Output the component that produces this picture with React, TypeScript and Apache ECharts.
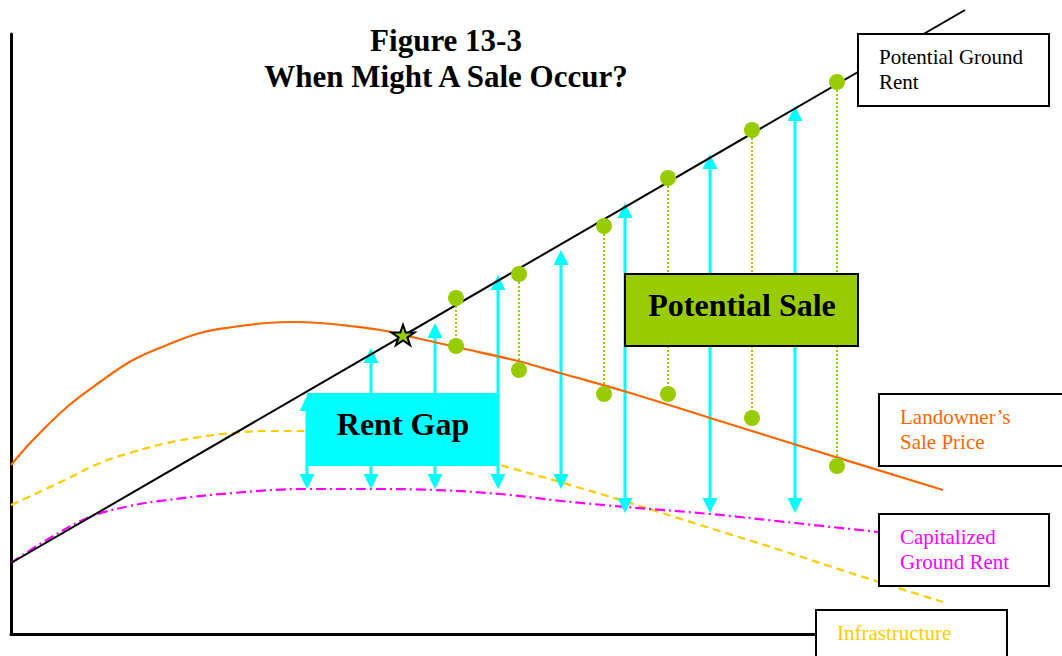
import React, { useEffect, useRef } from "react";
import * as echarts from "echarts";

// ---------- Data (x: time units, y: value units) ----------
const titleLines = ["Figure 13-3", "When Might A Sale Occur?"];

// Potential Ground Rent (straight line)
const groundRentX = [0, 95.4];
const groundRentY = [7.1, 62.4];

// Landowner's Sale Price
const salePriceX = [0, 2.2, 5.6, 8.9, 12.2, 15.6, 18.9, 22.2, 25.6, 28.2, 30.9, 33.9, 36.9, 39.2, 44.5, 50.7, 54.9, 61.6, 69.6, 78.9, 93.2];
const salePriceY = [16.9, 19.4, 22.7, 25.2, 27.4, 28.9, 30.1, 30.7, 31.1, 31.2, 31.1, 30.8, 30.4, 29.9, 28.7, 27.3, 26.1, 24.2, 21.7, 18.8, 14.4];

// Infrastructure
const infraX = [0, 2.2, 5.6, 8.9, 12.2, 15.6, 18.9, 22.2, 25.6, 29.6, 33.9, 38.9, 43.9, 48.9, 54.9, 61.6, 68.9, 76.9, 84.9, 93.2];
const infraY = [12.9, 13.9, 15.5, 17.1, 18.2, 19.1, 19.7, 20.1, 20.3, 20.3, 20.0, 19.3, 18.3, 16.9, 15.2, 13.2, 10.9, 8.4, 5.8, 3.2];

// Capitalized Ground Rent
const capRentX = [0, 3.9, 7.9, 11.9, 15.6, 22.2, 29.6, 36.0, 42.4, 48.9, 55.1, 61.5, 69.9, 78.4, 86.7];
const capRentY = [7.1, 9.6, 11.7, 12.8, 13.4, 14.1, 14.5, 14.5, 14.4, 14.0, 13.3, 12.7, 12.0, 11.1, 10.2];

// Rent gap arrows (from potential ground rent down to capitalized ground rent)
const gapX = [29.6, 36.0, 42.4, 48.7, 55.0, 61.4, 69.9, 78.4];
const gapTop = [23.8, 28.6, 31.1, 35.9, 38.4, 43.1, 48.0, 52.8];
const gapBottom = [14.5, 14.5, 14.5, 14.5, 14.5, 12.1, 12.1, 12.1];

// Potential sale points
const saleX = [44.5, 50.8, 59.3, 65.7, 74.1, 82.6];
const saleRent = [33.6, 36.0, 40.8, 45.6, 50.4, 55.2];
const salePrice = [28.8, 26.4, 24.0, 24.0, 21.6, 16.8];

// Crossing point (star)
const crossX = [39.2];
const crossY = [29.9];

// Axis extents
const plotXMax = 105.1; // full drawing width
const plotYMax = 63.4; // full drawing height
const axisXMax = 80.5; // visible horizontal axis length
const axisYMax = 60; // visible vertical axis length

// Label texts
const rentGapLabel = "Rent Gap";
const potentialSaleLabel = "Potential Sale";
const groundRentLabel = ["Potential Ground", "Rent"];
const salePriceLabel = ["Landowner\u2019s", "Sale Price"];
const capRentLabel = ["Capitalized", "Ground Rent"];
const infraLabel = ["Infrastructure"];

// ---------- Styles ----------
const CYAN = "#00FFFF";
const GREEN = "#99CC00";
const ORANGE = "#FF6600";
const MAGENTA = "#FF00FF";
const YELLOW = "#FFCC00";
const SERIF = '"Liberation Serif", "Times New Roman", serif';

const zip = (xs: number[], ys: number[]) => xs.map((x, i) => [x, ys[i]]);

function labelBox(x: number, y: number, w: number, h: number, lines: string[], color: string) {
  const els: any[] = [
    {
      type: "rect",
      z: 60,
      shape: { x, y, width: w, height: h },
      style: { fill: "#ffffff", stroke: "#000000", lineWidth: 2 },
    },
  ];
  lines.forEach((t, i) => {
    els.push({
      type: "text",
      z: 61,
      x: x + 21,
      y: y + 23 + i * 25,
      style: {
        text: t,
        font: `21px ${SERIF}`,
        fill: color,
        textAlign: "left",
        textVerticalAlign: "middle",
      },
    });
  });
  return els;
}

const hiddenAxis = {
  axisLine: { show: false },
  axisTick: { show: false },
  axisLabel: { show: false },
  splitLine: { show: false },
};

const shownAxis = {
  axisLine: { show: true, onZero: false, lineStyle: { color: "#000", width: 3 } },
  axisTick: { show: false },
  axisLabel: { show: false },
  splitLine: { show: false },
};

export default function App() {
  const ref = useRef<HTMLDivElement>(null);

  useEffect(() => {
    if (!ref.current) return;
    const chart = echarts.init(ref.current, undefined, { renderer: "svg" });

    const arrowRender = (params: any, api: any) => {
      const top = api.coord([api.value(0), api.value(1)]);
      const bot = api.coord([api.value(0), api.value(2)]);
      const h = 15;
      const w = 7.5;
      const x = top[0];
      return {
        type: "group",
        children: [
          {
            type: "line",
            shape: { x1: x, y1: top[1] + h - 1, x2: x, y2: bot[1] - h + 1 },
            style: { stroke: CYAN, lineWidth: 3 },
          },
          {
            type: "polygon",
            shape: { points: [[x, top[1]], [x - w, top[1] + h], [x + w, top[1] + h]] },
            style: { fill: CYAN },
          },
          {
            type: "polygon",
            shape: { points: [[x, bot[1]], [x - w, bot[1] - h], [x + w, bot[1] - h]] },
            style: { fill: CYAN },
          },
        ],
      };
    };

    const connectorRender = (params: any, api: any) => {
      const top = api.coord([api.value(0), api.value(1)]);
      const bot = api.coord([api.value(0), api.value(2)]);
      return {
        type: "line",
        shape: { x1: top[0], y1: top[1], x2: bot[0], y2: bot[1] },
        style: { stroke: GREEN, lineWidth: 2, lineDash: [2, 2] },
      };
    };

    const graphics: any[] = [
      {
        type: "text",
        z: 70,
        x: 446,
        y: 40,
        style: { text: titleLines[0], font: `bold 31px ${SERIF}`, fill: "#000", textAlign: "center", textVerticalAlign: "middle" },
      },
      {
        type: "text",
        z: 70,
        x: 446,
        y: 76,
        style: { text: titleLines[1], font: `bold 31px ${SERIF}`, fill: "#000", textAlign: "center", textVerticalAlign: "middle" },
      },
      {
        type: "rect",
        z: 50,
        shape: { x: 307, y: 393, width: 191, height: 73 },
        style: { fill: CYAN },
      },
      {
        type: "text",
        z: 51,
        x: 403,
        y: 424,
        style: { text: rentGapLabel, font: `bold 32px ${SERIF}`, fill: "#000", textAlign: "center", textVerticalAlign: "middle" },
      },
      {
        type: "rect",
        z: 50,
        shape: { x: 625, y: 274, width: 233, height: 72 },
        style: { fill: GREEN, stroke: "#000", lineWidth: 2 },
      },
      {
        type: "text",
        z: 51,
        x: 742,
        y: 305,
        style: { text: potentialSaleLabel, font: `bold 32px ${SERIF}`, fill: "#000", textAlign: "center", textVerticalAlign: "middle" },
      },
      ...labelBox(858, 34, 191, 72, groundRentLabel, "#000000"),
      ...labelBox(879, 394, 200, 72, salePriceLabel, ORANGE),
      ...labelBox(879, 514, 170, 72, capRentLabel, MAGENTA),
      ...labelBox(816, 610, 191, 60, infraLabel, YELLOW),
    ];

    const common = { xAxisIndex: 0, yAxisIndex: 0, clip: false };

    chart.setOption({
      animation: false,
      backgroundColor: "#ffffff",
      grid: [
        { left: 11, right: 0, top: 0, bottom: 22, containLabel: false },
        { left: 11, right: 246, top: 34, bottom: 22, containLabel: false },
      ],
      xAxis: [
        { type: "value", gridIndex: 0, min: 0, max: plotXMax, ...hiddenAxis },
        { type: "value", gridIndex: 1, min: 0, max: axisXMax, ...shownAxis },
      ],
      yAxis: [
        { type: "value", gridIndex: 0, min: 0, max: plotYMax, ...hiddenAxis },
        { type: "value", gridIndex: 1, min: 0, max: axisYMax, ...shownAxis },
      ],
      series: [
        {
          name: "Infrastructure",
          type: "line",
          ...common,
          data: zip(infraX, infraY),
          smooth: 0.4,
          showSymbol: false,
          symbol: "none",
          lineStyle: { color: YELLOW, width: 2.2, type: [8, 5] },
          z: 2,
        },
        {
          name: "Capitalized Ground Rent",
          type: "line",
          ...common,
          data: zip(capRentX, capRentY),
          smooth: 0.4,
          showSymbol: false,
          symbol: "none",
          lineStyle: { color: MAGENTA, width: 2.2, type: [10, 4, 2, 4] },
          z: 3,
        },
        {
          name: "Rent Gap",
          type: "custom",
          ...common,
          renderItem: arrowRender,
          data: gapX.map((x, i) => [x, gapTop[i], gapBottom[i]]),
          encode: { x: 0, y: [1, 2] },
          z: 4,
        },
        {
          name: "Potential Ground Rent",
          type: "line",
          ...common,
          data: zip(groundRentX, groundRentY),
          showSymbol: false,
          symbol: "none",
          lineStyle: { color: "#000", width: 2 },
          z: 5,
        },
        {
          name: "Landowner's Sale Price",
          type: "line",
          ...common,
          data: zip(salePriceX, salePriceY),
          smooth: 0.4,
          showSymbol: false,
          symbol: "none",
          lineStyle: { color: ORANGE, width: 2.2 },
          z: 5,
        },
        {
          name: "Sale connectors",
          type: "custom",
          ...common,
          renderItem: connectorRender,
          data: saleX.map((x, i) => [x, saleRent[i], salePrice[i]]),
          encode: { x: 0, y: [1, 2] },
          z: 6,
        },
        {
          name: "Potential Sale",
          type: "scatter",
          ...common,
          data: [...zip(saleX, saleRent), ...zip(saleX, salePrice)],
          symbol: "circle",
          symbolSize: 16,
          itemStyle: { color: GREEN, opacity: 1 },
          z: 7,
        },
        {
          name: "Crossing",
          type: "scatter",
          ...common,
          data: zip(crossX, crossY),
          symbol:
            "path://M50,0 L61.8,35.4 L100,35.4 L69.1,57.3 L80.9,92.7 L50,70.8 L19.1,92.7 L30.9,57.3 L0,35.4 L38.2,35.4 Z",
          symbolSize: [23, 22],
          symbolKeepAspect: true,
          itemStyle: { color: GREEN, borderColor: "#000", borderWidth: 2, opacity: 1 },
          z: 8,
        },
      ],
      graphic: { elements: graphics },
    });

    return () => {
      chart.dispose();
    };
  }, []);

  return (
    <div
      ref={ref}
      style={{ position: "fixed", left: 0, top: 0, width: 1062, height: 656, background: "#fff" }}
    />
  );
}
